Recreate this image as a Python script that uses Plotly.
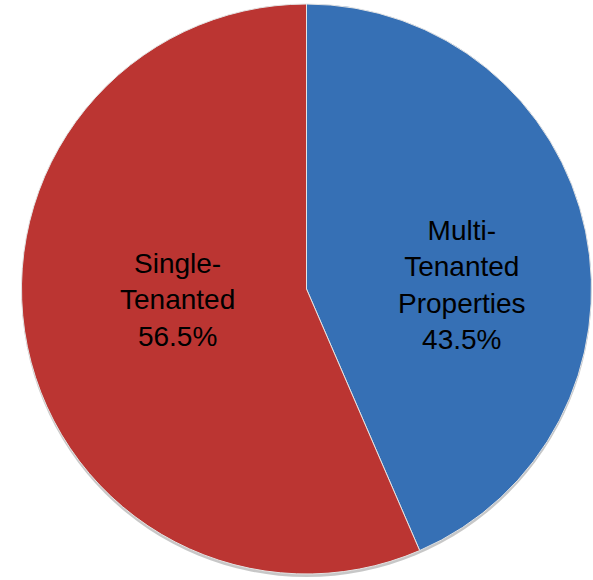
import plotly.graph_objects as go

labels = ["Multi-<br>Tenanted<br>Properties", "Single-<br>Tenanted"]
values = [43.5, 56.5]
colors = ["#3670b5", "#bb3532"]

# label centres (paper coords), kept apart from the data
label_pos = [(0.779, 0.508), (0.299, 0.482)]

FONT = "Liberation Sans, Arial, sans-serif"
pie_x = [21/593, 592/593]
pie_y = [6/580, 576/580]

# soft shadow under the pie
shadow = go.Pie(
    values=[1],
    marker=dict(colors=["rgba(0,0,0,0.22)"], line=dict(width=0)),
    textinfo="none",
    hoverinfo="skip",
    sort=False,
    domain=dict(x=pie_x, y=[pie_y[0] - 3/580, pie_y[1] - 3/580]),
    showlegend=False,
)

pie = go.Pie(
    labels=labels,
    values=values,
    sort=False,
    direction="clockwise",
    rotation=0,
    marker=dict(colors=colors, line=dict(color="#e4e4e4", width=1)),
    textinfo="none",
    hoverinfo="label+percent",
    domain=dict(x=pie_x, y=pie_y),
    showlegend=False,
)

fig = go.Figure([shadow, pie])

total = sum(values)
annotations = []
for lab, v, (ax, ay) in zip(labels, values, label_pos):
    annotations.append(dict(
        text=f"{lab}<br>{100 * v / total:.1f}%",
        x=ax, y=ay, xref="paper", yref="paper",
        xanchor="center", yanchor="middle",
        showarrow=False, align="center",
        font=dict(family=FONT, size=28, color="#000000"),
    ))

fig.update_layout(
    width=593, height=580,
    margin=dict(l=0, r=0, t=0, b=0),
    paper_bgcolor="white",
    plot_bgcolor="white",
    annotations=annotations,
)

fig.write_html("out.html")
